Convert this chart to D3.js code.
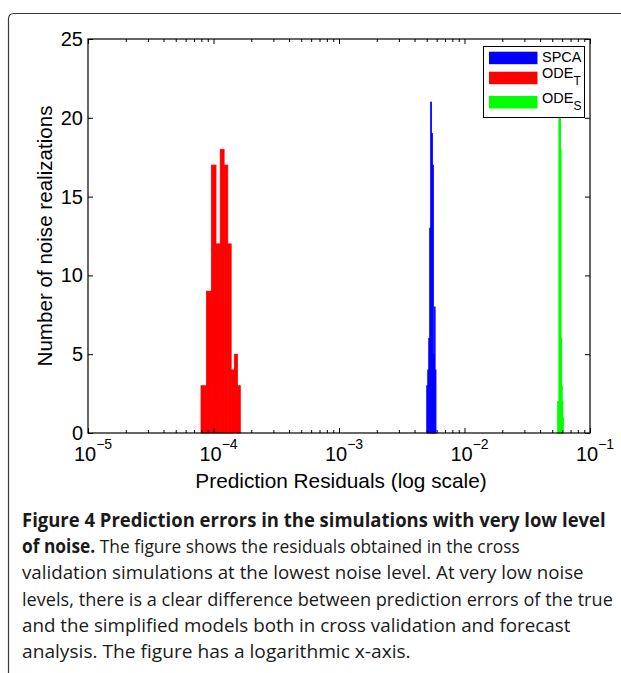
<!DOCTYPE html>
<html><head><meta charset="utf-8">
<script src="https://cdn.jsdelivr.net/npm/d3@7"></script>
<style>body{margin:0;background:#fff} svg{display:block}</style>
</head><body>
<svg id="c" width="621" height="673"></svg>
<script>
// ---- data ----
const seriesNames = ["SPCA", "ODE", "ODE"];
const seriesSubs = ["", "T", "S"];
const seriesColors = ["#0000ff", "#ff0000", "#00ff00"];
// histogram bin edges (prediction residuals) and counts per bin
const spcaEdges = [5.000e-3, 5.093e-3, 5.186e-3, 5.279e-3, 5.372e-3, 5.465e-3, 5.558e-3, 5.651e-3, 5.744e-3, 5.837e-3, 5.930e-3];
const spcaCounts = [3, 4, 6, 13, 21, 19, 17, 5, 8, 4];
const odeTEdges = [0.795e-4, 0.879e-4, 0.963e-4, 1.047e-4, 1.131e-4, 1.215e-4, 1.299e-4, 1.383e-4, 1.467e-4, 1.551e-4, 1.635e-4];
const odeTCounts = [3, 9, 17, 12, 18, 17, 12, 4, 5, 3];
const odeSEdges = [0.05527, 0.05587, 0.05646, 0.05706, 0.05765, 0.05825, 0.05885, 0.05944, 0.06004, 0.06063, 0.06123];
const odeSCounts = [2, 2, 24, 22, 20, 18, 6, 3, 2, 1];
const xDecades = [1e-5, 1e-4, 1e-3, 1e-2, 1e-1];
const xTickExps = ["−5", "−4", "−3", "−2", "−1"];
const yTicks = [0, 5, 10, 15, 20, 25];
const xLabel = "Prediction Residuals (log scale)";
const yLabel = "Number of noise realizations";
const captionLines = [
  [["b", "Figure 4 Prediction errors in the simulations with very low level"]],
  [["b", "of noise."], ["r", " The figure shows the residuals obtained in the cross"]],
  [["r", "validation simulations at the lowest noise level. At very low noise"]],
  [["r", "levels, there is a clear difference between prediction errors of the true"]],
  [["r", "and the simplified models both in cross validation and forecast"]],
  [["r", "analysis. The figure has a logarithmic x-axis."]]
];
const captionWidths = [584, 498, 562, 591, 549, 389];

// ---- layout ----
const svg = d3.select("#c");
const L = 88, R = 590, T = 39, B = 433;
const x = d3.scaleLog().domain([1e-5, 1e-1]).range([L, R]);
const y = d3.scaleLinear().domain([0, 25]).range([B, T]);
const font = "'Liberation Sans', Arial, Helvetica, sans-serif";

// frame
svg.append("path")
  .attr("d", "M8.5,673 L8.5,19 Q8.5,13.5 14,13.5 L621,13.5")
  .attr("fill", "none").attr("stroke", "#3a3a3a").attr("stroke-width", 1.2);

// bars
const series = [
  {edges: spcaEdges, counts: spcaCounts, color: seriesColors[0]},
  {edges: odeTEdges, counts: odeTCounts, color: seriesColors[1]},
  {edges: odeSEdges, counts: odeSCounts, color: seriesColors[2]}
];
const plot = svg.append("g");
series.forEach(s => {
  const bins = s.counts.map((c, i) => ({x0: s.edges[i], x1: s.edges[i + 1], c}));
  plot.selectAll(null).data(bins).enter().append("rect")
    .attr("x", d => x(d.x0))
    .attr("width", d => Math.max(0.6, x(d.x1) - x(d.x0)))
    .attr("y", d => y(d.c))
    .attr("height", d => y(0) - y(d.c))
    .attr("fill", s.color).attr("stroke", s.color).attr("stroke-width", 0.8);
});

// axes
const minorTicks = [];
xDecades.slice(0, -1).forEach(d => { for (let k = 2; k <= 9; k++) minorTicks.push(d * k); });

function styleAxis(g) {
  g.select(".domain").remove();
  g.selectAll("line").attr("stroke", "#000").attr("stroke-width", 1);
  g.selectAll("text").remove();
}
svg.append("g").attr("transform", `translate(0,${B})`)
  .call(d3.axisBottom(x).tickValues(xDecades).tickSize(-5).tickFormat("")).call(styleAxis);
svg.append("g").attr("transform", `translate(0,${B})`)
  .call(d3.axisBottom(x).tickValues(minorTicks).tickSize(-3).tickFormat("")).call(styleAxis);
svg.append("g").attr("transform", `translate(0,${T})`)
  .call(d3.axisTop(x).tickValues(xDecades).tickSize(-5).tickFormat("")).call(styleAxis);
svg.append("g").attr("transform", `translate(0,${T})`)
  .call(d3.axisTop(x).tickValues(minorTicks).tickSize(-3).tickFormat("")).call(styleAxis);
svg.append("g").attr("transform", `translate(${L},0)`)
  .call(d3.axisLeft(y).tickValues(yTicks).tickSize(-5).tickFormat("")).call(styleAxis);
svg.append("g").attr("transform", `translate(${R},0)`)
  .call(d3.axisRight(y).tickValues(yTicks).tickSize(-5).tickFormat("")).call(styleAxis);

// box
svg.append("rect").attr("x", L).attr("y", T).attr("width", R - L).attr("height", B - T)
  .attr("fill", "none").attr("stroke", "#000").attr("stroke-width", 1.2);

// y tick labels
svg.selectAll(null).data(yTicks).enter().append("text")
  .attr("x", L - 5).attr("y", d => y(d) + 7)
  .attr("text-anchor", "end").attr("font-family", font).attr("font-size", 20)
  .text(d => d);

// x tick labels
xDecades.forEach((d, i) => {
  const t = svg.append("text").attr("x", x(d) + 5).attr("y", 461)
    .attr("text-anchor", "middle").attr("font-family", font).attr("font-size", 20);
  t.append("tspan").text("10");
  t.append("tspan").attr("dy", -12).attr("font-size", 14).text(xTickExps[i]);
});

// axis labels
svg.append("text").attr("x", 341).attr("y", 488).attr("text-anchor", "middle")
  .attr("font-family", font).attr("font-size", 20.8).text(xLabel);
svg.append("text").attr("transform", `translate(52,${(T + B) / 2}) rotate(-90)`)
  .attr("text-anchor", "middle").attr("font-family", font).attr("font-size", 20.6).text(yLabel);

// legend
const lg = svg.append("g");
lg.append("rect").attr("x", 483.5).attr("y", 46.5).attr("width", 101).attr("height", 71)
  .attr("fill", "#fff").attr("stroke", "#000").attr("stroke-width", 1);
const swY = [51.7, 71.7, 96];
const txY = [61.5, 78.3, 103];
seriesNames.forEach((n, i) => {
  lg.append("rect").attr("x", 489).attr("y", swY[i]).attr("width", 48.5).attr("height", 12.5)
    .attr("fill", seriesColors[i]);
  const t = lg.append("text").attr("x", 542).attr("y", txY[i])
    .attr("font-family", font).attr("font-size", 14.5).text(n);
  if (seriesSubs[i]) t.append("tspan").attr("dy", 7).attr("font-size", 12).text(seriesSubs[i]);
});

// caption
const capFont = "'Open Sans', 'Noto Sans', sans-serif";
captionLines.forEach((line, i) => {
  const g = svg.append("g");
  const t = g.append("text").attr("x", 0).attr("y", 0)
    .attr("font-family", capFont).attr("font-size", 19).attr("fill", "#1a1a1a");
  line.forEach(([w, s]) => {
    t.append("tspan").attr("font-weight", w === "b" ? 700 : 400).text(s);
  });
  const natural = t.node().getComputedTextLength();
  const sx = captionWidths[i] / natural;
  g.attr("transform", `translate(22,${527 + i * 26.2}) scale(${sx},1)`);
});
</script>
</body></html>
